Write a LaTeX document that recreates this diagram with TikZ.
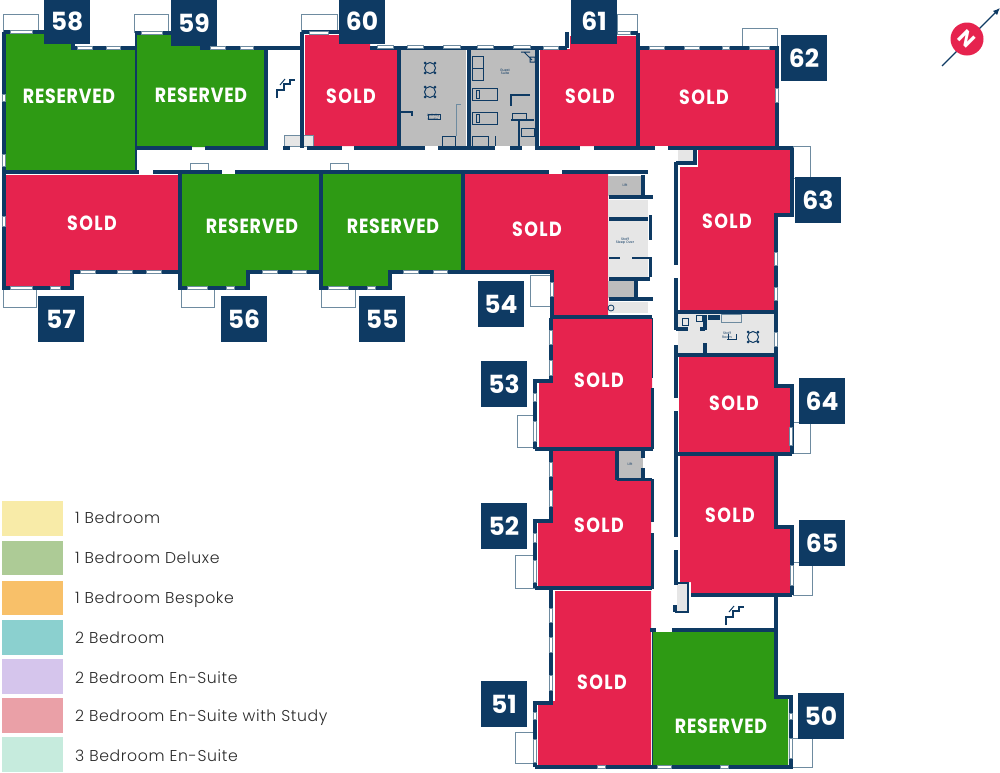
\documentclass[tikz,border=0pt]{standalone}
\usepackage{fontspec}
\setmainfont{Poppins}
\newfontfamily\legendfont[LetterSpace=4]{Poppins Light}
\newfontfamily\soldfont[LetterSpace=7,FakeStretch=0.85]{Poppins}
\newfontfamily\resfont[LetterSpace=3.5,FakeStretch=0.85]{Poppins}
\usetikzlibrary{arrows.meta}
\definecolor{soldred}{HTML}{E6234E}
\definecolor{resgreen}{HTML}{2E9A14}
\definecolor{navy}{HTML}{0E3A63}
\definecolor{slate}{HTML}{6E8BA0}
\definecolor{midgrey}{HTML}{BDBDBD}
\definecolor{lightgrey}{HTML}{E6E6E6}
\definecolor{legtext}{HTML}{2A2A2A}
\definecolor{legA}{HTML}{F8EBA8}
\definecolor{legB}{HTML}{ADCB96}
\definecolor{legC}{HTML}{F8C069}
\definecolor{legD}{HTML}{8BD0CF}
\definecolor{legE}{HTML}{D5C5EC}
\definecolor{legF}{HTML}{EAA0A7}
\definecolor{legG}{HTML}{C6EBDD}
\tikzset{
  stairs/.pic={
    \draw[navy,line width=1.5] (-9,10) -- (-9,2) -- (-2,2) -- (-2,-4) -- (4,-4) -- (4,-8) -- (9,-8);
    \draw[navy,line width=1] (-6,-3) -- (-1,-9);
  }
}
\begin{document}
\begin{tikzpicture}[x=1pt,y=-1pt,
    wall/.style={navy,line width=3.1},
    thinwall/.style={navy,line width=1.6},
    win/.style={draw=slate,fill=white,line width=.4},
    balcony/.style={draw=slate,fill=white,line width=1},
    badge/.style={fill=navy,text=white,minimum size=46,inner sep=0,font=\fontsize{25}{25}\bfseries},
    soldtag/.style={text=white,inner sep=0,font=\soldfont\fontsize{20.5}{20.5}\bfseries},
    restag/.style={text=white,inner sep=0,font=\resfont\fontsize{20.5}{20.5}\bfseries},
    tiny/.style={text=navy,inner sep=0,align=center,font=\fontsize{3.4}{3.6}\selectfont},
    legtxt/.style={text=legtext,anchor=base west,inner sep=0,font=\legendfont\fontsize{15.7}{15.7}\selectfont}]
  \useasboundingbox (0,0) rectangle (1000,772);

  \foreach \col/\pts in {
    resgreen/{(6,33) -- (73,33) -- (73,50) -- (135,50) -- (137,172) -- (6,172)},
    resgreen/{(137,35) -- (200,35) -- (200,50) -- (265,50) -- (265,147) -- (137,147)},
    soldred/{(305,35) -- (370,35) -- (370,50) -- (398,50) -- (398,146) -- (313,146) -- (313,135) -- (305,135)},
    soldred/{(540,49) -- (570,49) -- (570,36) -- (636,36) -- (636,146) -- (540,146)},
    soldred/{(639,49) -- (775,49) -- (775,146) -- (639,146)},
    soldred/{(680,167) -- (698,167) -- (698,150) -- (790,150) -- (790,213) -- (776,213) -- (776,310) -- (680,310)},
    soldred/{(679,357) -- (776,357) -- (776,388) -- (790,388) -- (790,452) -- (679,452)},
    soldred/{(680,455) -- (776,455) -- (776,529) -- (792,529) -- (792,593) -- (691,593) -- (691,582) -- (680,582)},
    resgreen/{(653,632) -- (775,632) -- (777,697) -- (788,697) -- (788,765) -- (653,765)},
    soldred/{(555,591) -- (651,591) -- (651,765) -- (538,765) -- (538,703) -- (555,701)},
    soldred/{(553,450) -- (617,450) -- (617,479) -- (651,479) -- (651,587) -- (538,587) -- (538,523) -- (553,523)},
    soldred/{(553,319) -- (652,319) -- (652,447) -- (539,447) -- (539,383) -- (553,381)},
    soldred/{(464,174) -- (608,174) -- (608,316) -- (553,316) -- (553,272) -- (464,272)},
    resgreen/{(323,174) -- (462,174) -- (462,271) -- (389,271) -- (389,286) -- (323,286)},
    resgreen/{(182,174) -- (320,174) -- (320,271) -- (248,271) -- (248,286) -- (182,286)},
    soldred/{(6,175) -- (179,175) -- (179,271) -- (72,271) -- (72,287) -- (6,287)}}
    \fill[\col] \pts -- cycle;

  \foreach \col/\xa/\ya/\xb/\yb in {
    midgrey/401/50/466/146, midgrey/471/50/536/146,
    midgrey/608/176/643/196, lightgrey/608/200/648/217, lightgrey/608/221/648/277,
    midgrey/608/281/636/298, lightgrey/608/302/648/313,
    lightgrey/678/150/693/162, lightgrey/678/314/775/354,
    midgrey/617/450/643/478, lightgrey/677/583/688/612,
    white/284/135/313/145}
    \fill[\col] (\xa,\ya) rectangle (\xb,\yb);

  \foreach \xa/\ya/\xb/\yb in {
    3/14/38/32, 134/14/168/32, 301/14/337/32, 617/14/637/33, 742/28/777/47,
    793/146/810/178, 792/422/810/453, 793/562/812/595, 790/738/812/767,
    515/732/535/763, 515/555/535/588, 517/415/535/447, 530/275/550/306,
    3/289/36/307, 181/289/214/307, 321/289/355/307}
    \draw[balcony] (\xa,\ya) rectangle (\xb,\yb);

  \draw[balcony] (190,172) -- (190,163) -- (208,163) -- (208,172);
  \draw[balcony] (330,172) -- (330,163) -- (348,163) -- (348,172);
  \draw[balcony,fill=lightgrey] (284,135) rectangle (313,146);

  \draw[wall] (4,32) -- (4,288) -- (72,288) -- (72,272) -- (180,272);
  \draw[wall] (4,32) -- (44,32) (73,44) -- (73,48) -- (135,48);
  \draw[wall] (135,33) -- (171,33) (200,48) -- (302,48);
  \draw[thinwall] (136,33) -- (136,172);
  \draw[wall] (266,48) -- (266,148) (302,32) -- (302,148) (302,32) -- (340,32);
  \draw[wall] (370,48) -- (567,48) (567,32) -- (567,48);
  \draw[wall] (399,48) -- (399,148) (537,48) -- (537,148);
  \draw[navy,line width=4] (468.5,48) -- (468.5,148);
  \draw[wall] (617,33) -- (638,33) (638,33) -- (638,148) (638,48) -- (777,48) -- (777,148);
  \foreach \xa/\xb in {137/192,205/268,283/290,307/342,354/425,438/495,510/522,535/580,594/655,668/793}
    \draw[wall] (\xa,148) -- (\xb,148);
  \foreach \xa/\xb in {5/139,153/222,235/549,562/648}
    \draw[wall] (\xa,172) -- (\xb,172);
  \draw[wall] (180,172) -- (180,288) -- (248,288) -- (248,272) -- (321,272);
  \draw[wall] (321,172) -- (321,288) -- (390,288) -- (390,272) -- (463,272);
  \draw[wall] (463,172) -- (463,272) -- (552,272) -- (552,318);
  \draw[wall] (552,317) -- (652,317);

  \draw[wall] (643,175) -- (643,196) (609,197) -- (653,197);
  \draw[wall] (609,219) -- (648,219) (650.5,215) -- (650.5,240) (650.5,257) -- (650.5,277);
  \draw[thinwall] (609,258) -- (620,258) (632,258) -- (650,258);
  \draw[wall] (609,279) -- (650,279) (636,279) -- (636,298) (609,299) -- (653,299);

  \draw[wall] (792,148) -- (792,215) -- (776,215) -- (776,355);
  \draw[wall] (676,162) -- (676,265) (676,278) -- (676,330) (676,345) -- (676,398) (676,411) -- (676,537) (676,550) -- (676,585);
  \draw[wall] (676,163) -- (695,163) -- (695,148);
  \draw[wall] (676,312) -- (776,312) (678,355) -- (776,355);
  \draw[wall] (705,315) -- (705,330) (705,343) -- (705,355) (676,329) -- (688,329) (700,329) -- (705,329);
  \draw[wall] (776,355) -- (776,386) -- (792,386) -- (792,454) (678,454) -- (792,454);
  \draw[wall] (776,454) -- (776,527) -- (792,527) -- (792,595) (691,595) -- (792,595);
  \draw[wall] (776,595) -- (776,630) (650,630) -- (656,630) (672,630) -- (776,630);
  \draw[thinwall] (677,583) -- (688,583) -- (688,612) -- (675,612);
  \draw[wall] (675,605) -- (675,612);
  \draw[thinwall] (652.5,632) -- (652.5,767);
  \draw[wall] (776,630) -- (776,697) -- (791,697) -- (791,767) -- (535,767);
  \draw[wall] (535,767) -- (535,703) -- (551,703) -- (551,589) (535,588) -- (652,588);
  \draw[wall] (535,588) -- (535,521) -- (551,521) -- (551,449) (535,449) -- (653,449);
  \draw[wall] (535,449) -- (535,381) -- (551,381) -- (551,318);
  \draw[thinwall] (652.5,318) -- (652.5,378);
  \draw[wall] (652.5,388) -- (652.5,449) (643,449) -- (643,458) (643,468) -- (643,479);
  \draw[wall] (617,450) -- (617,480) (617,479.5) -- (652,479.5) (652.5,479) -- (652.5,522) (652.5,533) -- (652.5,589);

  \foreach \xa/\xb/\y in {
    10/32/32, 77/92/48, 106/120/48, 141/162/33, 210/225/48, 240/253/48, 309/328/33,
    377/393/47, 407/423/47, 443/460/47, 477/493/47, 513/530/47, 543/558/48, 617/630/33,
    649/664/48, 684/699/48, 722/729/48, 749/769/48,
    10/32/288, 50/60/288, 80/95/272, 117/132/272, 146/161/272,
    187/207/288, 226/234/288, 262/277/272, 292/306/272,
    328/348/288, 367/375/288, 403/418/272, 433/447/272,
    597/605/767, 657/671/767, 720/728/767}
    \fill[win] (\xa,\y-1.6) rectangle (\xb,\y+1.6);
  \foreach \x/\ya/\yb in {
    4/94/101, 4/154/166, 4/216/226, 777/88/102, 776/252/265, 776/287/300, 776/332/346,
    791/427/445, 792/565/585, 791/713/719, 791/738/758,
    552/282/296, 551/330/344, 551/360/375, 535/393/401, 535/421/441,
    551/462/476, 551/490/506, 535/533/542, 535/560/582,
    551/608/622, 551/637/652, 551/675/690, 535/712/719, 535/739/762}
    \fill[win] (\x-1.6,\ya) rectangle (\x+1.6,\yb);

  \foreach \cx/\cy in {430/68,430/92,753/337} {
    \draw[navy,line width=1] (\cx,\cy) circle (5.5);
    \foreach \a in {45,135,225,315}
      \fill[navy] (\cx,\cy) ++(\a:7) circle (1.5);
  }
  \draw[navy,line width=1.4] (401,112) -- (412,112) -- (412,116);
  \draw[navy,line width=.7] (428,114) rectangle (440,119);
  \draw[slate,line width=.7] (456,136) -- (456,104) -- (461,104);
  \draw[navy,line width=1] (442,136) rectangle (455,146);
  \draw[navy,line width=.7] (472,56) rectangle (483,68) (472,68) rectangle (483,80);
  \draw[navy,line width=.7] (472,88) rectangle (497,100) (472,112) rectangle (497,124);
  \draw[navy,line width=.7] (476,90) rectangle (479,98) (476,114) rectangle (479,122);
  \draw[navy,line width=1.6] (511,106) -- (511,95) -- (530,95);
  \draw[navy,line width=1.6] (511,120) -- (534,120) (519,120) -- (519,146);
  \draw[navy,line width=.7] (512,113) rectangle (526,120) (521,128) rectangle (534,136);
  \draw[navy,line width=1] (521,52) -- (530,52) (524,52) -- (532,60) (530,57) rectangle (535,62);
  \draw[navy,line width=1] (495,136) -- (495,146) (472,136) rectangle (488,146);
  \draw[slate,line width=.5] (721,314) rectangle (741,322);
  \draw[navy,line width=.7] (682,318) rectangle (688,325) (696,315) rectangle (702,321);
  \fill[navy] (708,315) rectangle (720,320);
  \draw[navy,line width=.8] (611,308) circle (3);
  \draw[navy,line width=.8] (727,339) -- (737,339) (728,334) -- (728,339) (736,334) -- (736,339);

  \node[tiny] (labact) at (433,117) {Activity\\Studio};
  \node[tiny] (labgst) at (505,72) {Guest\\Suite};
  \node[tiny] (labliftn) at (625,185) {Lift};
  \node[tiny] (labliftw) at (630,464) {Lift};
  \node[tiny] (labslp) at (625,241) {Staff\\Sleep Over};
  \node[tiny] (labstf) at (727,335) {Staff\\Room};

  \pic at (286,88) {stairs};
  \pic at (735,615) {stairs};

  \foreach \num/\x/\y in {
    58/67/21, 59/194/23, 60/362/21, 61/594/21, 62/804/58, 63/818/200, 64/822/401,
    65/822/543, 50/821/716, 51/504/704, 52/504/526, 53/504/384, 54/501/304,
    55/382/319, 56/244/319, 57/61/319}
    \node[badge] (b\num) at (\x,\y) {\num};

  \foreach \name/\x/\y in {
    u60/351/96, u61/590/96, u62/704/97, u57/92/223, u54/537/229, u63/727/221,
    u53/599/380, u64/734/403, u52/599/525, u65/730/515, u51/602/682}
    \node[soldtag] (\name) at (\x,\y) {SOLD};
  \foreach \name/\x/\y in {
    u58/69/96, u59/201/95, u56/252/226, u55/393/226, u50/721/726}
    \node[restag] (\name) at (\x,\y) {RESERVED};

  \foreach \col/\ya/\yb/\ybase/\txt in {
    legA/501/536/523/1 Bedroom,
    legB/541/575/563/1 Bedroom Deluxe,
    legC/581/615/603/1 Bedroom Bespoke,
    legD/620/655/643/2 Bedroom,
    legE/659/694/683/2 Bedroom En-Suite,
    legF/698/733/721/2 Bedroom En-Suite with Study,
    legG/737/772/761/3 Bedroom En-Suite} {
    \fill[\col] (2,\ya) rectangle (63,\yb);
    \node[legtxt] (\col txt) at (75,\ybase) {\txt};
  }

  \coordinate (compS) at (942,66);
  \coordinate (compN) at (1000,8);
  \draw[navy,line width=1.1,-{Latex[length=7,width=6]}] (compS) -- (compN);
  \node[circle,fill=soldred,minimum size=33,inner sep=0,text=white,rotate=-45,
    font=\fontsize{20}{20}\bfseries] (compass) at (967,39) {N};
\end{tikzpicture}
\end{document}
